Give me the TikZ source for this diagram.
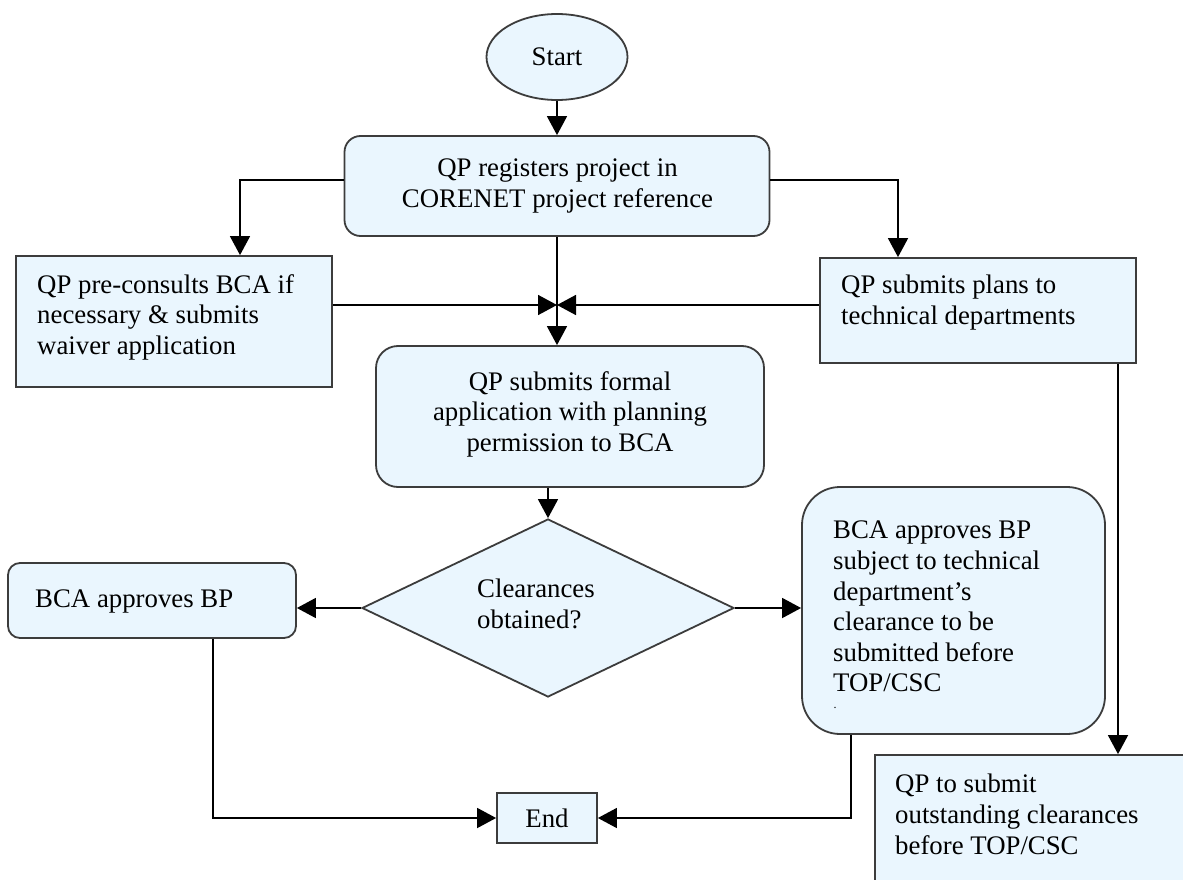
\documentclass[tikz,border=0pt]{standalone}
\usepackage{fontspec}
\setmainfont{Liberation Serif}
\usetikzlibrary{shapes.geometric,arrows.meta}
\definecolor{boxfill}{HTML}{EAF6FE}
\definecolor{boxline}{HTML}{3C3C3C}
\begin{document}
\begin{tikzpicture}[x=1pt,y=-1pt,
  every node/.style={font=\fontsize{26.8}{30.6}\selectfont},
  box/.style={draw=boxline, line width=1.8pt, fill=boxfill, inner sep=0pt, rectangle},
  lbl/.style={inner sep=0pt, align=left, anchor=north west},
  clbl/.style={inner sep=0pt, align=center, anchor=north},
  conn/.style={line width=1.6pt, -{Triangle[length=19pt,width=20pt]}},
  plain/.style={line width=1.6pt}]
\useasboundingbox (0,0) rectangle (1183,880);
\fill[white] (0,0) rectangle (1183,880);
\clip (0,0) rectangle (1183,880);

% nodes
\node[box, ellipse, minimum width=141pt, minimum height=86pt] (start) at (557,57) {Start};

\node[box, rounded corners=16pt, minimum width=425pt, minimum height=100pt] (reg) at (557,186) {};
\node[clbl] (regt) at (557.5,159) {QP registers project in\\CORENET project reference};

\node[box, minimum width=316pt, minimum height=131pt] (pre) at (174,321.5) {};
\node[lbl] (pret) at (37,274) {QP pre-consults BCA if\\necessary \& submits\\waiver application};

\node[box, minimum width=316pt, minimum height=105pt] (plans) at (978,310.5) {};
\node[lbl] (planst) at (841,275) {QP submits plans to\\technical departments};

\node[box, rounded corners=22pt, minimum width=388pt, minimum height=141pt] (formal) at (570,416.5) {};
\node[clbl] (formalt) at (570,371) {QP submits formal\\application with planning\\permission to BCA};

\node[box, diamond, minimum width=372pt, minimum height=178pt] (dia) at (548,608) {};
\node[lbl] (diat) at (477,579) {Clearances\\obtained?};

\node[box, rounded corners=12pt, minimum width=288pt, minimum height=75pt] (bca) at (152,600.5) {};
\node[lbl] (bcat) at (35,590) {BCA approves BP};

\node[box, rounded corners=38pt, minimum width=303pt, minimum height=247pt] (big) at (953.5,610.5) {};
\node[lbl] (bigt) at (833,521) {BCA approves BP\\subject to technical\\department's\\clearance to be\\submitted before\\TOP/CSC};
\node[inner sep=0pt, font=\fontsize{12}{14}\selectfont] (mark) at (835,708) {.};

\node[box, minimum width=100pt, minimum height=50pt] (end) at (547,818) {End};

\node[box, minimum width=325pt, minimum height=145pt] (qp) at (1037.5,827.5) {};
\node[lbl] (qpt) at (895,774) {QP to submit\\outstanding clearances\\before TOP/CSC};

% connectors
\coordinate (j) at (557,305);
\draw[conn] (start.south) -- (start.south |- reg.north);
\draw[conn] ([yshift=6pt]reg.west) -| ([xshift=66pt]pre.north);
\draw[conn] ([yshift=6pt]reg.east) -| ([xshift=-80pt]plans.north);
\draw[conn] (reg.south) -- (reg.south |- formal.north);
\draw[conn] (pre.east |- j) -- (j);
\draw[conn] (plans.west |- j) -- (j);
\draw[conn] (dia.north |- formal.south) -- (dia.north);
\draw[conn] (dia.west) -- (dia.west -| bca.east);
\draw[conn] (dia.east) -- (dia.east -| big.west);
\draw[conn] ([xshift=61pt]bca.south) |- (end.west);
\draw[conn] ([xshift=-102.5pt]big.south) |- (end.east);
\draw[conn] ([xshift=140pt]plans.south) -- ([xshift=140pt]plans.south |- qp.north);
\end{tikzpicture}
\end{document}
